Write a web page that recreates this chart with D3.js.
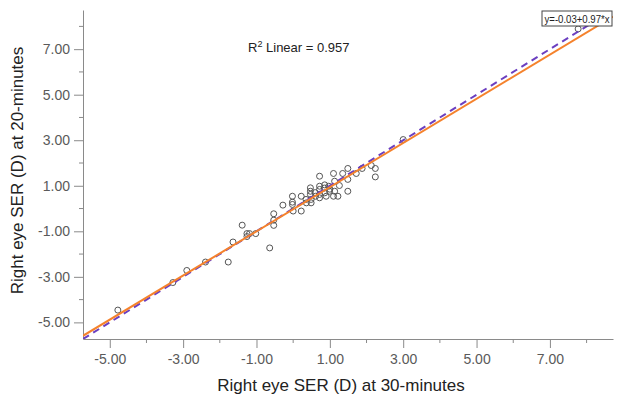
<!DOCTYPE html>
<html>
<head>
<meta charset="utf-8">
<script src="https://cdn.jsdelivr.net/npm/d3@7"></script>
<style>
  body { margin: 0; background: #fff; }
  svg { font-family: "Liberation Sans", Arial, sans-serif; }
</style>
</head>
<body>
<svg id="chart" width="618" height="403"></svg>
<script>
// Data -------------------------------------------------------------
const ser30 = [-4.78, -3.28, -2.90, -2.39, -1.77, -1.64, -1.39, -1.26, -1.19, -1.02,
  -1.26, -0.64, -0.53, -0.53, -0.53, -0.28, -0.02, -0.02, -0.02, 0.00,
  0.22, 0.22, 0.36, 0.49, 0.47, 0.47, 0.47, 0.49, 0.61, 0.72,
  0.72, 0.72, 0.72, 0.72, 0.86, 0.86, 0.90, 0.97, 0.99, 1.10,
  1.13, 1.13, 1.10, 1.22, 1.26, 1.35, 1.49, 1.49, 1.49, 1.72,
  1.88, 2.13, 2.24, 2.24, 3.00, 7.77, 0.60, 0.85, 0.35, 1.00];
const ser20 = [-4.46, -3.25, -2.72, -2.35, -2.35, -1.47, -0.73, -1.10, -1.10, -1.10,
  -1.23, -1.73, -0.23, -0.51, -0.74, 0.15, 0.54, 0.28, 0.18, -0.11,
  -0.11, 0.54, 0.25, 0.25, 0.91, 0.76, 0.62, 0.40, 0.54, 1.42,
  0.98, 0.84, 0.62, 0.47, 1.04, 0.69, 0.54, 0.98, 0.76, 1.54,
  1.20, 0.76, 0.54, 0.54, 1.01, 1.54, 1.76, 1.28, 0.76, 1.54,
  1.76, 1.89, 1.76, 1.39, 3.03, 7.89, 0.70, 0.90, 0.40, 0.85];
const fitIntercept = -0.03;
const fitSlope = 0.97;
const rSquared = 0.957;
const majorTicks = [-5, -3, -1, 1, 3, 5, 7];
const minorTicks = [-4, -2, 0, 2, 4, 6, 8];
const domain = [-5.73, 8.72];

// Layout -------------------------------------------------------------
let margin = { top: 10, right: 5, bottom: 64, left: 83 };
let width = 618 - margin.left - margin.right;
let height = 403 - margin.top - margin.bottom;

let svg = d3.select("#chart")
  .append("g")
  .attr("transform", `translate(${margin.left},${margin.top})`);

let x = d3.scaleLinear().domain(domain).range([0, width]);
let y = d3.scaleLinear().domain(domain).range([height, 0]);

// SPSS style labels use a plain hyphen
const fmt = d => d3.format(".2f")(d).replace("\u2212", "-");

svg.append("defs").append("clipPath").attr("id", "plotclip")
  .append("rect").attr("width", width).attr("height", height);

// Axes
let xAxis = svg.append("g").attr("transform", `translate(0,${height})`)
  .call(d3.axisBottom(x).tickValues(majorTicks).tickSize(9).tickPadding(6)
    .tickFormat(fmt).tickSizeOuter(0));
xAxis.selectAll(".minor").data(minorTicks).enter().append("line")
  .attr("class", "minor")
  .attr("x1", d => x(d)).attr("x2", d => x(d)).attr("y1", 0).attr("y2", 4);

let yAxis = svg.append("g")
  .call(d3.axisLeft(y).tickValues(majorTicks).tickSize(9).tickPadding(4)
    .tickFormat(fmt).tickSizeOuter(0));
yAxis.selectAll(".minor").data(minorTicks).enter().append("line")
  .attr("class", "minor")
  .attr("y1", d => y(d)).attr("y2", d => y(d)).attr("x1", 0).attr("x2", -4);

svg.selectAll(".domain, .tick line, .minor").attr("stroke", "#8a8a8a").attr("stroke-width", 1);
svg.selectAll(".tick text").attr("fill", "#5a5a5a").attr("font-size", "14px");

// Axis titles
svg.append("text")
  .attr("x", width / 2 - 7).attr("y", height + 52)
  .attr("text-anchor", "middle").attr("font-size", "17px").attr("fill", "#222")
  .text("Right eye SER (D) at 30-minutes");
svg.append("text")
  .attr("transform", `translate(${-60},${height / 2 - 4}) rotate(-90)`)
  .attr("text-anchor", "middle").attr("font-size", "17px").attr("fill", "#222")
  .text("Right eye SER (D) at 20-minutes");

// Points
svg.append("g").selectAll("circle")
  .data(ser30.map((d, i) => [d, ser20[i]]))
  .enter().append("circle")
  .attr("cx", d => x(d[0])).attr("cy", d => y(d[1])).attr("r", 3)
  .attr("fill", "none").attr("stroke", "#555").attr("stroke-width", 1);

// Lines
let lines = svg.append("g").attr("clip-path", "url(#plotclip)");
lines.append("line")
  .attr("x1", x(domain[0])).attr("y1", y(domain[0]))
  .attr("x2", x(domain[1])).attr("y2", y(domain[1]))
  .attr("stroke", "#6b3fc0").attr("stroke-width", 2).attr("stroke-dasharray", "7,5");
lines.append("line")
  .attr("x1", x(domain[0])).attr("y1", y(fitIntercept + fitSlope * domain[0]))
  .attr("x2", x(domain[1])).attr("y2", y(fitIntercept + fitSlope * domain[1]))
  .attr("stroke", "#f5822c").attr("stroke-width", 2);

// R² annotation
let r2 = svg.append("text").attr("x", 165).attr("y", 42)
  .attr("font-size", "13px").attr("fill", "#222");
r2.append("tspan").text("R");
r2.append("tspan").attr("font-size", "9px").attr("dy", -5).text("2");
r2.append("tspan").attr("dy", 5).text(" Linear = " + rSquared);

// Equation label
let lbl = svg.append("g").attr("transform", `translate(${width - 71},1)`);
lbl.append("rect").attr("width", 70).attr("height", 15)
  .attr("fill", "#fff").attr("stroke", "#444").attr("stroke-width", 1);
lbl.append("text").attr("x", 2.5).attr("y", 11.5)
  .attr("font-size", "10px").attr("fill", "#222")
  .attr("textLength", 65).attr("lengthAdjust", "spacingAndGlyphs")
  .text(`y=${fitIntercept}+${fitSlope}*x`);
</script>
</body>
</html>
